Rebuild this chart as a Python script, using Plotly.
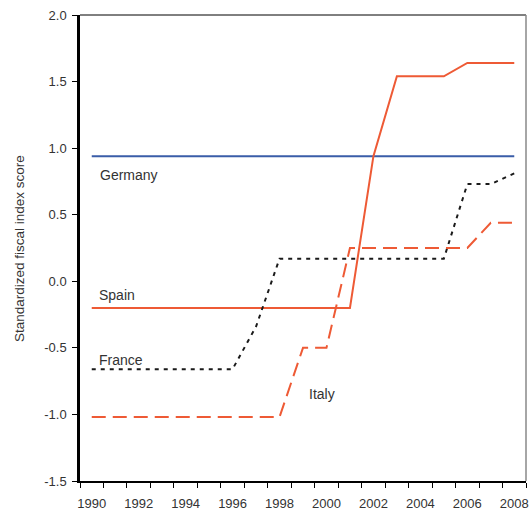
import plotly.graph_objects as go

years = list(range(1990, 2009))
germany = [0.94] * 19
spain = [-0.2, -0.2, -0.2, -0.2, -0.2, -0.2, -0.2, -0.2, -0.2, -0.2, -0.2, -0.2,
         0.94, 1.54, 1.54, 1.54, 1.64, 1.64, 1.64]
france = [-0.66, -0.66, -0.66, -0.66, -0.66, -0.66, -0.66, -0.34, 0.17, 0.17, 0.17,
          0.17, 0.17, 0.17, 0.17, 0.17, 0.73, 0.73, 0.81]
italy = [-1.02, -1.02, -1.02, -1.02, -1.02, -1.02, -1.02, -1.02, -1.02, -0.5, -0.5,
         0.25, 0.25, 0.25, 0.25, 0.25, 0.25, 0.44, 0.44]

y_ticks = [-1.5, -1.0, -0.5, 0.0, 0.5, 1.0, 1.5, 2.0]
y_ticktext = ["-1.5", "-1.0", "-0.5", "0.0", "0.5", "1.0", "1.5", "2.0"]
x_ticks = list(range(1990, 2009, 2))

labels = ["Germany", "Spain", "France", "Italy"]
label_x = [1990.26, 1990.22, 1990.22, 1999.17]
label_y = [0.80, -0.10, -0.59, -0.85]

RED = "#EE5A35"
BLUE = "#3A5DA8"
FONT = "Liberation Sans, Arial, sans-serif"
TXT = "#333333"

fig = go.Figure()
fig.add_trace(go.Scatter(x=years, y=germany, mode="lines",
                         line=dict(color=BLUE, width=2), name="Germany"))
fig.add_trace(go.Scatter(x=years, y=spain, mode="lines",
                         line=dict(color=RED, width=2), name="Spain"))
fig.add_trace(go.Scatter(x=years, y=france, mode="lines",
                         line=dict(color="#1a1a1a", width=2, dash="4px,5px"), name="France"))
fig.add_trace(go.Scatter(x=years, y=italy, mode="lines",
                         line=dict(color=RED, width=2, dash="14px,7px"), name="Italy"))

for t, x, y in zip(labels, label_x, label_y):
    fig.add_annotation(x=x, y=y, xref="x", yref="y", text=t, showarrow=False,
                       xanchor="left", yanchor="middle",
                       font=dict(family=FONT, size=14, color=TXT))

fig.add_annotation(x=-0.1368, y=0.5, xref="paper", yref="paper",
                   text="Standardized fiscal index score", textangle=-90,
                   showarrow=False, xanchor="center", yanchor="middle",
                   font=dict(family=FONT, size=13.5, color=TXT))

fig.add_shape(type="line", xref="paper", yref="paper", x0=0, x1=1, y0=1, y1=1,
              line=dict(color="black", width=1))
fig.add_shape(type="line", xref="paper", yref="paper", x0=1, x1=1, y0=0, y1=1,
              line=dict(color="#888888", width=1.5))

fig.update_layout(
    width=532, height=513,
    margin=dict(l=80, r=6, t=15, b=32, autoexpand=False),
    plot_bgcolor="white", paper_bgcolor="white",
    showlegend=False,
    font=dict(family=FONT, size=13, color=TXT),
    xaxis=dict(range=[1989.5, 2008.5], tickmode="array", tickvals=x_ticks,
               ticks="", showgrid=False, zeroline=False, automargin=False,
               showline=True, linecolor="black", linewidth=1.5,
               ticklabelstandoff=10, ticklabeloverflow="allow",
               tickfont=dict(family=FONT, size=13, color=TXT),
               minor=dict(tickmode="linear", tick0=1989.5, dtick=1, ticks="outside",
                          ticklen=5, tickcolor="black", tickwidth=1, showgrid=False)),
    yaxis=dict(range=[-1.5, 2.0], tickmode="array", tickvals=y_ticks, ticktext=y_ticktext,
               ticks="outside", ticklen=5, tickcolor="black", tickwidth=1,
               showgrid=False, zeroline=False, automargin=False,
               showline=True, linecolor="black", linewidth=2.5,
               ticklabelstandoff=3, ticklabeloverflow="allow",
               tickfont=dict(family=FONT, size=13, color=TXT)),
)

fig.write_html(
    "out.html",
    config={"displayModeBar": False},
    post_script="document.body.style.margin='0';document.body.style.overflow='hidden';",
)
